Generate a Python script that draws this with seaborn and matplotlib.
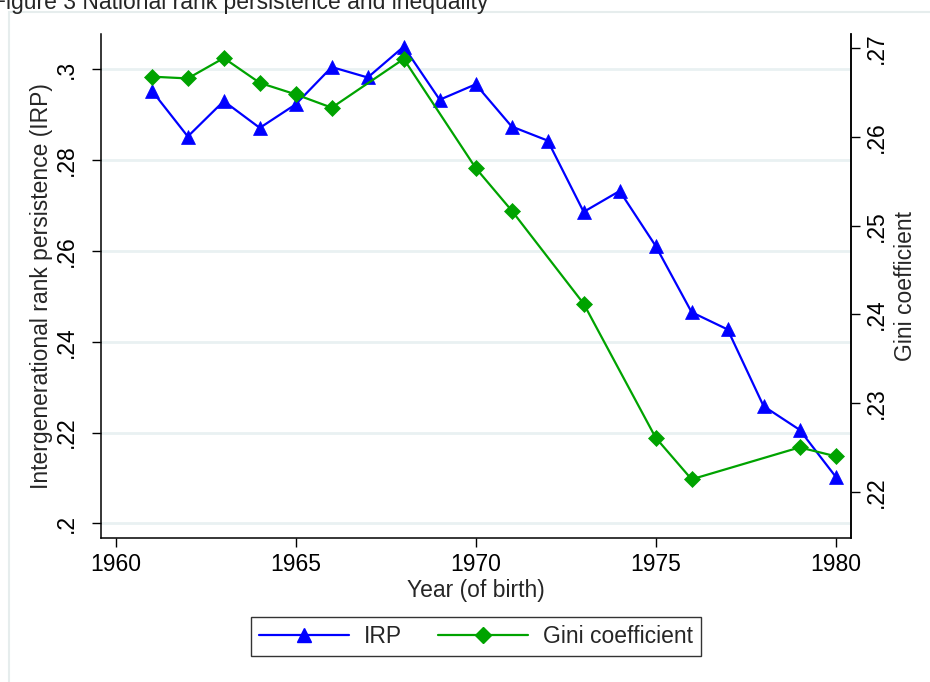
import matplotlib
matplotlib.use("Agg")
import matplotlib.pyplot as plt
import seaborn as sns
import pandas as pd
from matplotlib.lines import Line2D
from matplotlib.patches import Rectangle

# ---- data ----
irp_years = list(range(1961, 1981))
irp_values = [0.2953, 0.2852, 0.2930, 0.2871, 0.2923, 0.3005, 0.2982, 0.3050,
              0.2933, 0.2967, 0.2874, 0.2843, 0.2686, 0.2732, 0.2611, 0.2465,
              0.2427, 0.2258, 0.2206, 0.2103]
gini_years = [1961, 1962, 1963, 1964, 1965, 1966, 1968, 1970, 1971, 1973,
              1975, 1976, 1979, 1980]
gini_values = [0.2668, 0.2666, 0.2689, 0.2661, 0.2648, 0.2633, 0.2688, 0.2565,
               0.2517, 0.2412, 0.2261, 0.2214, 0.2250, 0.2240]
x_ticks = [1960, 1965, 1970, 1975, 1980]
left_ticks = [0.20, 0.22, 0.24, 0.26, 0.28, 0.30]
left_labels = [".2", ".22", ".24", ".26", ".28", ".3"]
right_ticks = [0.22, 0.23, 0.24, 0.25, 0.26, 0.27]
right_labels = [".22", ".23", ".24", ".25", ".26", ".27"]

title_text = "Figure 3 National rank persistence and inequality"
xlabel = "Year (of birth)"
ylabel_left = "Intergenerational rank persistence (IRP)"
ylabel_right = "Gini coefficient"
series_names = ["IRP", "Gini coefficient"]

irp_df = pd.DataFrame({"year": irp_years, "value": irp_values})
gini_df = pd.DataFrame({"year": gini_years, "value": gini_values})

# ---- style ----
sns.set_style("ticks")
plt.rcParams["font.family"] = ["Liberation Sans", "DejaVu Sans"]
FS = 16.5
BLUE = "#0000ff"
GREEN = "#00a300"
GRID = "#e9f1f2"
TRI_MS = 10.0
DIA_MS = 8.0

fig = plt.figure(figsize=(9.3, 6.82), dpi=100)
W, H = 930, 682
ax = fig.add_axes([100.7 / W, 1 - 538.3 / H, (850.7 - 100.7) / W, (538.3 - 34) / H])
ax2 = ax.twinx()

sns.lineplot(data=irp_df, x="year", y="value", ax=ax, color=BLUE, marker="^",
             markersize=TRI_MS, markeredgecolor=BLUE, markeredgewidth=0.5,
             linewidth=1.6, zorder=3)
sns.lineplot(data=gini_df, x="year", y="value", ax=ax2, color=GREEN, marker="D",
             markersize=DIA_MS, markeredgecolor=GREEN, markeredgewidth=0.5,
             linewidth=1.6, zorder=3)

ax.set_xlim(1959.58, 1980.42)
ax.set_ylim(0.1967, 0.30778)
ax2.set_ylim(0.21475, 0.27161)

ax.set_xticks(x_ticks)
ax.set_xticklabels([str(t) for t in x_ticks], fontsize=FS)
ax.set_yticks(left_ticks)
ax.set_yticklabels(left_labels, fontsize=FS, rotation=90, va="center", ha="right")
ax2.set_yticks(right_ticks)
ax2.set_yticklabels(right_labels, fontsize=FS, rotation=90, va="center", ha="left")

ax.grid(axis="y", color=GRID, linewidth=2.0)
ax.grid(axis="x", visible=False)
ax.set_axisbelow(True)

for a in (ax, ax2):
    a.spines["top"].set_visible(False)
    for s in a.spines.values():
        s.set_color("black")
        s.set_linewidth(1.1)
ax2.spines["left"].set_visible(False)
ax2.spines["bottom"].set_visible(False)

ax.tick_params(axis="x", length=6.5, width=1.0, pad=4, colors="black")
ax.tick_params(axis="y", length=6.5, width=1.0, pad=10, colors="black")
ax2.tick_params(axis="y", length=6.5, width=1.0, pad=4, colors="black")

ax.set_xlabel(xlabel, fontsize=FS, labelpad=2)
ax.set_ylabel(ylabel_left, fontsize=FS, labelpad=1)
ax2.set_ylabel(ylabel_right, fontsize=FS, labelpad=4)

# title, partly cut at the top-left corner as in the reference
fig.text(488 / W, 1 - 9 / H, title_text, fontsize=FS, ha="right", va="baseline")

# light outer frame
fig.patches.append(Rectangle((8.7 / W, -0.1), 1.2, 1 - 12 / H + 0.1,
                             transform=fig.transFigure, fill=False,
                             edgecolor="#e6eded", linewidth=1.5))

handles = [
    Line2D([0], [0], color=BLUE, marker="^", markersize=TRI_MS, linewidth=1.6,
           markeredgecolor=BLUE),
    Line2D([0], [0], color=GREEN, marker="D", markersize=DIA_MS, linewidth=1.6,
           markeredgecolor=GREEN),
]
leg = fig.legend(handles, series_names, loc="center",
                 bbox_to_anchor=(476 / W, 1 - 636.6 / H), ncol=2, fontsize=FS,
                 frameon=True, fancybox=False, edgecolor="black",
                 handlelength=3.9, handletextpad=0.65, columnspacing=1.6,
                 borderpad=0.35)
leg.get_frame().set_linewidth(1.0)

fig.savefig("out.png", dpi=100)
